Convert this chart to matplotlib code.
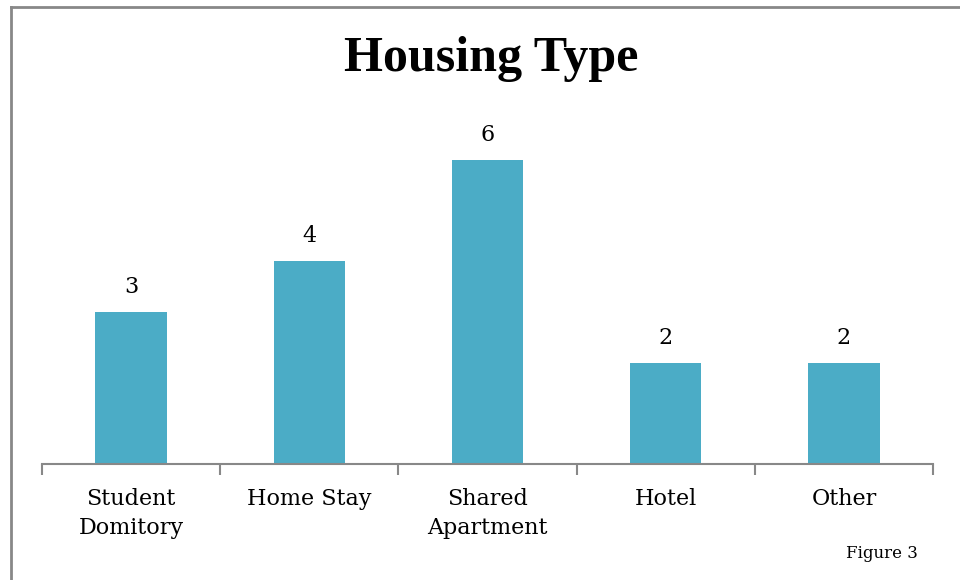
import matplotlib.pyplot as plt
from matplotlib.lines import Line2D

# Data
categories = ['Student\nDomitory', 'Home Stay', 'Shared\nApartment', 'Hotel', 'Other']
counts = [3, 4, 6, 2, 2]

barColor = '#4BACC6'
axisColor = '#888888'
labelFont = 'DejaVu Serif'

fig = plt.figure(figsize=(9.6, 5.8), dpi=100)
ax = fig.add_axes([42 / 960, 1 - 464 / 580, (933 - 42) / 960, (464 - 109) / 580])

x = list(range(len(categories)))
bars = ax.bar(x, counts, width=0.4, color=barColor)

ax.set_xlim(-0.5, len(categories) - 0.5)
ax.set_ylim(0, 7)

# value labels
for rect, v in zip(bars, counts):
    ax.annotate(str(v), (rect.get_x() + rect.get_width() / 2, v),
                xytext=(0, 10), textcoords='offset points',
                ha='center', va='bottom', fontsize=16, family=labelFont)

# axes styling: only the baseline with ticks between categories
for side in ['top', 'right', 'left']:
    ax.spines[side].set_visible(False)
ax.spines['bottom'].set_color(axisColor)
ax.spines['bottom'].set_linewidth(1.5)
ax.set_yticks([])
ax.set_xticks([i - 0.5 for i in range(len(categories) + 1)], minor=False)
ax.set_xticklabels([])
ax.tick_params(axis='x', which='major', length=8, width=1.5, color=axisColor, direction='out')
ax.set_xticks(x, minor=True)
ax.set_xticklabels(categories, minor=True, fontsize=16, family=labelFont, linespacing=1.45)
ax.tick_params(axis='x', which='minor', length=0, pad=17)

# title
fig.text(491 / 960, 1 - 59 / 580, 'Housing Type', ha='center', va='center',
         fontsize=36, fontweight='bold', family='Liberation Serif')

fig.text(918 / 960, 1 - 553 / 580, 'Figure 3', ha='right', va='center',
         fontsize=12, family=labelFont)

# chart border (left and top edges visible)
fig.add_artist(Line2D([10.5 / 960, 10.5 / 960], [0, 1 - 7 / 580], transform=fig.transFigure,
                      color=axisColor, linewidth=2))
fig.add_artist(Line2D([10.5 / 960, 1], [1 - 7 / 580, 1 - 7 / 580], transform=fig.transFigure,
                      color=axisColor, linewidth=2))

fig.savefig('out.png', dpi=100)
